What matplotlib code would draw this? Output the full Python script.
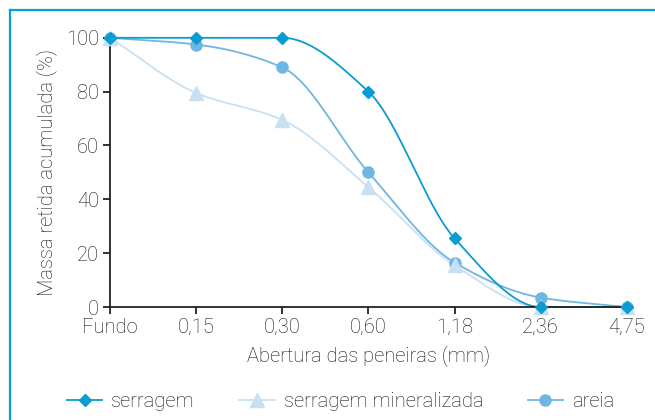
import numpy as np
import matplotlib.pyplot as plt
from matplotlib.lines import Line2D

# Sieve openings and cumulative retained mass (%)
categories = ['Fundo', '0,15', '0,30', '0,60', '1,18', '2,36', '4,75']
serragem = [100, 100, 100, 80, 25.5, 0, 0]
serragem_mineralizada = [100, 79.5, 69.5, 44.5, 15.5, 0, 0]
areia = [100, 97.5, 89, 50, 16.5, 3.5, 0]


def smooth(y, n=40):
    # monotone cubic (Fritsch-Carlson) so the smoothed line never overshoots
    y = np.asarray(y, dtype=float)
    x = np.arange(len(y))
    d = np.diff(y)
    m = np.zeros_like(y)
    for i in range(1, len(y) - 1):
        if d[i - 1] * d[i] > 0:
            m[i] = 2 / (1 / d[i - 1] + 1 / d[i])
    m[0] = d[0]
    m[-1] = d[-1]
    xs, ys = [], []
    for i in range(len(y) - 1):
        t = np.linspace(0, 1, n)
        h00 = 2 * t**3 - 3 * t**2 + 1
        h10 = t**3 - 2 * t**2 + t
        h01 = -2 * t**3 + 3 * t**2
        h11 = t**3 - t**2
        xs.append(x[i] + t)
        ys.append(h00 * y[i] + h10 * m[i] + h01 * y[i + 1] + h11 * m[i + 1])
    return np.concatenate(xs), np.concatenate(ys)


plt.rcParams['font.family'] = ['Roboto', 'DejaVu Sans']
plt.rcParams['font.weight'] = 'light'
plt.rcParams['axes.labelweight'] = 'light'
text_color = '#111111'
fs = 14.5

fig = plt.figure(figsize=(6.55, 4.2), dpi=100)
ax = fig.add_axes([0.168, 0.269, 0.789, 0.641])

series = [
    ('serragem', serragem, '#0a9bd0', 'D', 6),
    ('serragem mineralizada', serragem_mineralizada, '#c8e0f2', '^', 9.5),
    ('areia', areia, '#6fb6e2', 'o', 8),
]
handles = []
for name, vals, color, marker, ms in series[::-1]:
    xs, ys = smooth(vals)
    ax.plot(xs, ys, color=color, lw=1.3, clip_on=False)
    ax.plot(range(len(vals)), vals, ls='none', marker=marker, ms=ms,
            color=color, clip_on=False, zorder=3)
for name, vals, color, marker, ms in series:
    handles.append(Line2D([], [], color=color, lw=1.3, marker=marker, ms=ms, label=name))

ax.set_xlim(0, 6)
ax.set_ylim(0, 100)
ax.set_xticks(range(len(categories)))
ax.set_xticklabels(categories)
ax.set_yticks([0, 20, 40, 60, 80, 100])
ax.spines['top'].set_visible(False)
ax.spines['right'].set_visible(False)
for s in ['left', 'bottom']:
    ax.spines[s].set_color('#222222')
    ax.spines[s].set_linewidth(1.3)
ax.tick_params(colors='#222222', labelcolor=text_color, labelsize=fs,
               length=5, width=1.3, pad=3)
ax.set_xlabel('Abertura das peneiras (mm)', fontsize=fs, color=text_color,
              fontweight='light', labelpad=6)
ax.set_ylabel('Massa retida acumulada (%)', fontsize=fs, color=text_color,
              fontweight='light', labelpad=6)

fig.legend(handles=handles, loc='center', bbox_to_anchor=(0.52, 0.043), ncol=3,
           frameon=False, prop={'size': fs, 'weight': 'light'}, handlelength=1.75,
           handletextpad=0.45, columnspacing=2.2, labelcolor=text_color)

# blue frame around the figure
fig.add_artist(Line2D([10 / 655, 10 / 655], [0, 1 - 10 / 420], color='#00a3e0', lw=1.6))
fig.add_artist(Line2D([10 / 655, 1], [1 - 10 / 420, 1 - 10 / 420], color='#00a3e0', lw=1.6))

fig.savefig('out.png', dpi=100)
